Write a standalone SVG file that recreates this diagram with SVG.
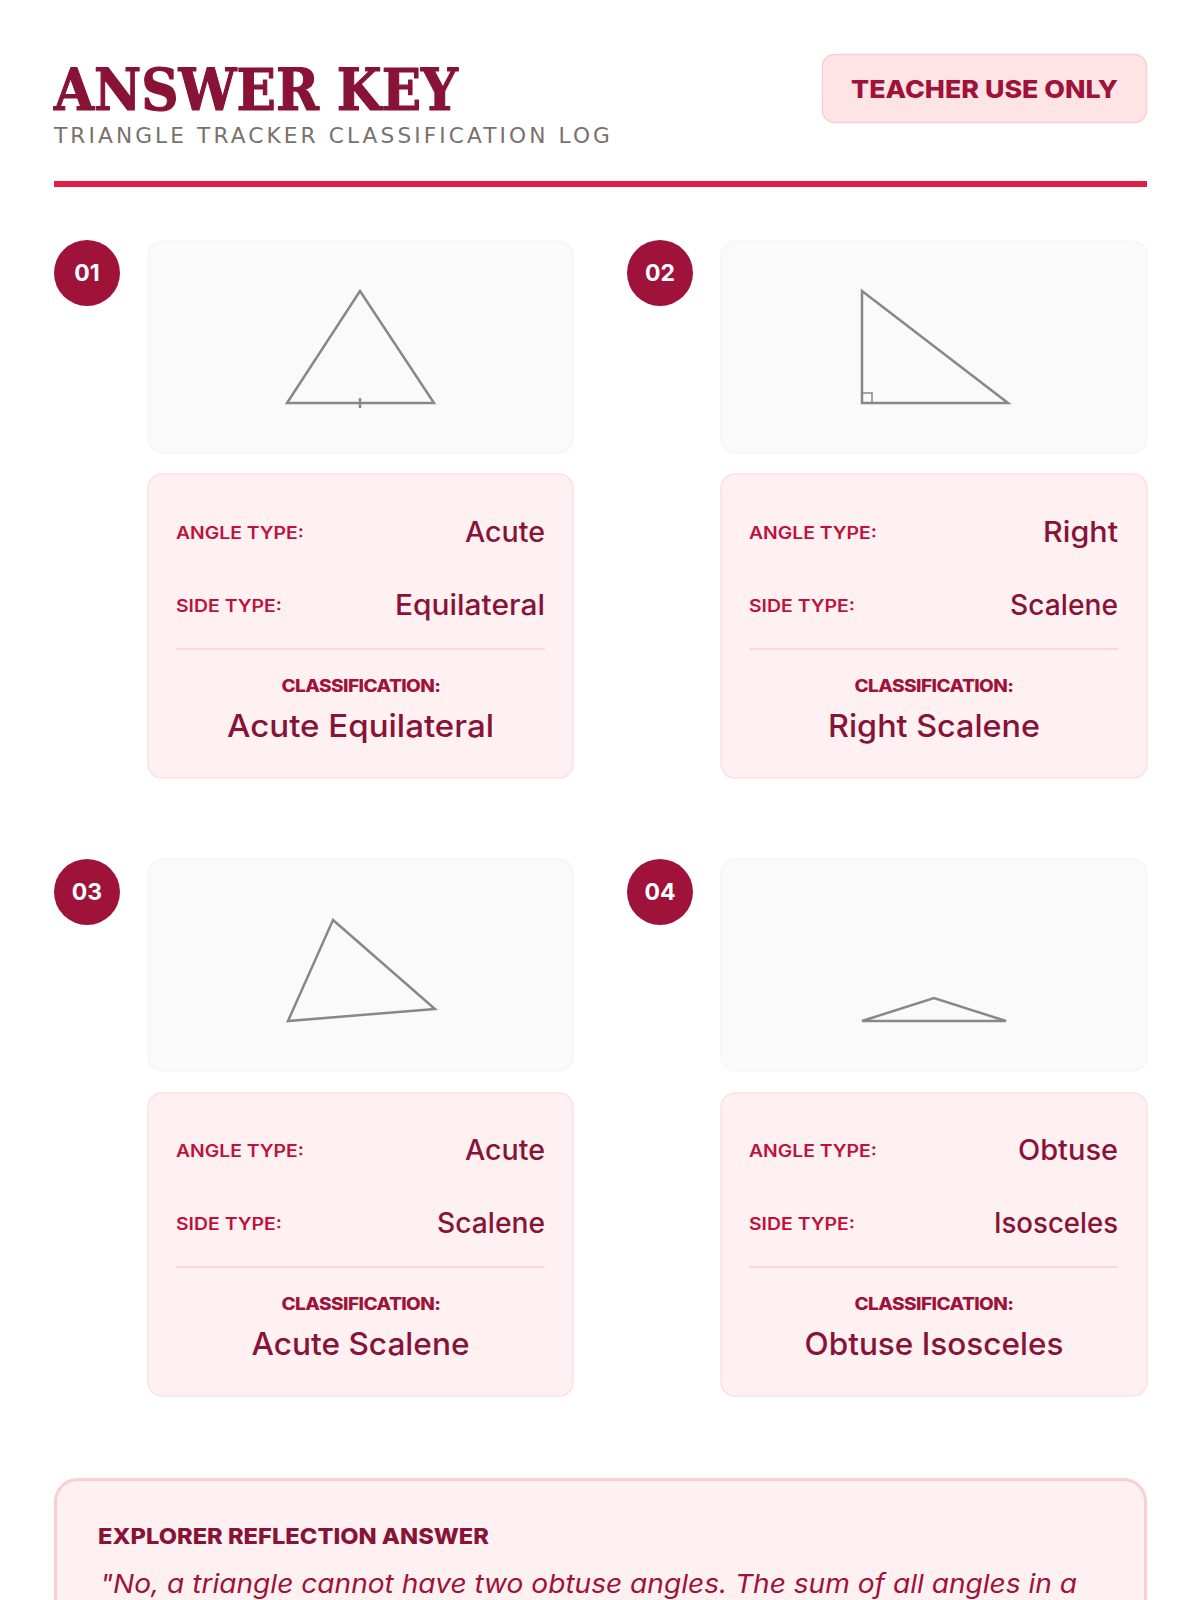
<svg xmlns="http://www.w3.org/2000/svg" width="1200" height="1600" viewBox="0 0 1200 1600">
<style>
.title{font-family:"DejaVu Serif","Liberation Serif",serif;font-weight:900;fill:#881337;stroke:#881337;stroke-width:1.2px;stroke-linejoin:round}
.sub{font-family:"DejaVu Sans","Liberation Sans",sans-serif;font-size:21px;letter-spacing:3px;fill:#78716c}
.badge-t{font-family:Inter,"Noto Sans",sans-serif;font-weight:800;font-size:25px;fill:#9f1239}
.num-c{fill:#9f1239}
.num-t{font-family:Inter,"Noto Sans",sans-serif;font-weight:700;font-size:23px;fill:#ffffff;text-anchor:middle}
.tbox{fill:#fafafa;stroke:#f2f2f2;stroke-width:1}
.ibox{fill:#fff1f2;stroke:#fde0e5;stroke-width:1.5}
.tri{fill:none;stroke:#888888;stroke-width:2.5;stroke-linejoin:miter}
.lbl{font-family:Inter,"Noto Sans",sans-serif;font-weight:600;font-size:17px;fill:#be123c}
.val{font-family:Inter,"Noto Sans",sans-serif;font-weight:500;font-size:28px;fill:#881337;text-anchor:end}
.div{stroke:#fecdd3;stroke-width:1.5}
.clbl{font-family:Inter,"Noto Sans",sans-serif;font-weight:800;font-size:17px;fill:#9f1239;text-anchor:middle;letter-spacing:-0.5px}
.cval{font-family:Inter,"Noto Sans",sans-serif;font-weight:500;font-size:31px;fill:#881337;text-anchor:middle}
.rbox{fill:#fff1f2;stroke:#fecdd3;stroke-width:3}
.rhead{font-family:Inter,"Noto Sans",sans-serif;font-weight:800;font-size:22px;fill:#881337}
.rtext{font-family:Inter,"Noto Sans",sans-serif;font-style:italic;font-size:26px;fill:#9f1239}
</style>
<rect width="1200" height="1600" fill="#ffffff"/>

<g id="header">
  <text class="title" x="54" y="110" font-size="58" textLength="404" lengthAdjust="spacingAndGlyphs">ANSWER KEY</text>
  <text class="sub" x="54" y="143" textLength="559" lengthAdjust="spacingAndGlyphs">TRIANGLE TRACKER CLASSIFICATION LOG</text>
  <rect x="54" y="181" width="1093" height="6" fill="#e11d48"/>
</g>

<g id="teacher-badge">
  <rect x="822.5" y="54.5" width="324" height="68" rx="12" fill="#ffe4e6" stroke="#fecdd3" stroke-width="1.5"/>
  <text class="badge-t" x="851" y="98" textLength="267" lengthAdjust="spacingAndGlyphs">TEACHER USE ONLY</text>
</g>

<g id="item-01">
  <circle class="num-c" cx="87" cy="273" r="33"/>
  <text class="num-t" x="87" y="281">01</text>
  <rect class="tbox" x="148" y="241" width="425" height="212" rx="14"/>
  <polygon class="tri" points="360,291 434,403 287,403"/>
  <line class="tri" x1="360" y1="398" x2="360" y2="408"/>
  <rect class="ibox" x="148" y="474" width="425" height="304" rx="14"/>
  <text class="lbl" x="176" y="539" textLength="128" lengthAdjust="spacingAndGlyphs">ANGLE TYPE:</text>
  <text class="val" x="545" y="542" textLength="80" lengthAdjust="spacingAndGlyphs">Acute</text>
  <text class="lbl" x="176" y="612" textLength="106" lengthAdjust="spacingAndGlyphs">SIDE TYPE:</text>
  <text class="val" x="545" y="615" textLength="150" lengthAdjust="spacingAndGlyphs">Equilateral</text>
  <line class="div" x1="176" y1="649" x2="545" y2="649"/>
  <text class="clbl" x="361" y="692" textLength="159" lengthAdjust="spacingAndGlyphs">CLASSIFICATION:</text>
  <text class="cval" x="360.5" y="737" textLength="267" lengthAdjust="spacingAndGlyphs">Acute Equilateral</text>
</g>

<g id="item-02">
  <circle class="num-c" cx="660" cy="273" r="33"/>
  <text class="num-t" x="660" y="281">02</text>
  <rect class="tbox" x="721" y="241" width="426" height="212" rx="14"/>
  <polygon class="tri" points="862,291 1008,403 862,403"/>
  <polyline points="862,393 872,393 872,403" fill="none" stroke="#888888" stroke-width="1.5"/>
  <rect class="ibox" x="721" y="474" width="426" height="304" rx="14"/>
  <text class="lbl" x="749" y="539" textLength="128" lengthAdjust="spacingAndGlyphs">ANGLE TYPE:</text>
  <text class="val" x="1118" y="542" textLength="75" lengthAdjust="spacingAndGlyphs">Right</text>
  <text class="lbl" x="749" y="612" textLength="106" lengthAdjust="spacingAndGlyphs">SIDE TYPE:</text>
  <text class="val" x="1118" y="615" textLength="108" lengthAdjust="spacingAndGlyphs">Scalene</text>
  <line class="div" x1="749" y1="649" x2="1118" y2="649"/>
  <text class="clbl" x="934" y="692" textLength="159" lengthAdjust="spacingAndGlyphs">CLASSIFICATION:</text>
  <text class="cval" x="934" y="737" textLength="212" lengthAdjust="spacingAndGlyphs">Right Scalene</text>
</g>

<g id="item-03">
  <circle class="num-c" cx="87" cy="892" r="33"/>
  <text class="num-t" x="87" y="900">03</text>
  <rect class="tbox" x="148" y="859" width="425" height="212" rx="14"/>
  <polygon class="tri" points="333,920 435,1009 288,1021"/>
  <rect class="ibox" x="148" y="1093" width="425" height="303" rx="14"/>
  <text class="lbl" x="176" y="1157" textLength="128" lengthAdjust="spacingAndGlyphs">ANGLE TYPE:</text>
  <text class="val" x="545" y="1160" textLength="80" lengthAdjust="spacingAndGlyphs">Acute</text>
  <text class="lbl" x="176" y="1230" textLength="106" lengthAdjust="spacingAndGlyphs">SIDE TYPE:</text>
  <text class="val" x="545" y="1233" textLength="108" lengthAdjust="spacingAndGlyphs">Scalene</text>
  <line class="div" x1="176" y1="1267" x2="545" y2="1267"/>
  <text class="clbl" x="361" y="1310" textLength="159" lengthAdjust="spacingAndGlyphs">CLASSIFICATION:</text>
  <text class="cval" x="360.5" y="1355" textLength="218" lengthAdjust="spacingAndGlyphs">Acute Scalene</text>
</g>

<g id="item-04">
  <circle class="num-c" cx="660" cy="892" r="33"/>
  <text class="num-t" x="660" y="900">04</text>
  <rect class="tbox" x="721" y="859" width="426" height="212" rx="14"/>
  <polygon class="tri" points="862,1021 934,998 1006,1021"/>
  <rect class="ibox" x="721" y="1093" width="426" height="303" rx="14"/>
  <text class="lbl" x="749" y="1157" textLength="128" lengthAdjust="spacingAndGlyphs">ANGLE TYPE:</text>
  <text class="val" x="1118" y="1160" textLength="100" lengthAdjust="spacingAndGlyphs">Obtuse</text>
  <text class="lbl" x="749" y="1230" textLength="106" lengthAdjust="spacingAndGlyphs">SIDE TYPE:</text>
  <text class="val" x="1118" y="1233" textLength="124" lengthAdjust="spacingAndGlyphs">Isosceles</text>
  <line class="div" x1="749" y1="1267" x2="1118" y2="1267"/>
  <text class="clbl" x="934" y="1310" textLength="159" lengthAdjust="spacingAndGlyphs">CLASSIFICATION:</text>
  <text class="cval" x="934" y="1355" textLength="259" lengthAdjust="spacingAndGlyphs">Obtuse Isosceles</text>
</g>

<g id="reflection">
  <rect class="rbox" x="55.5" y="1479.5" width="1090" height="200" rx="22"/>
  <text class="rhead" x="98" y="1544" textLength="391" lengthAdjust="spacingAndGlyphs">EXPLORER REFLECTION ANSWER</text>
  <text class="rtext" x="100" y="1593" textLength="977" lengthAdjust="spacingAndGlyphs">"No, a triangle cannot have two obtuse angles. The sum of all angles in a</text>
</g>
</svg>
